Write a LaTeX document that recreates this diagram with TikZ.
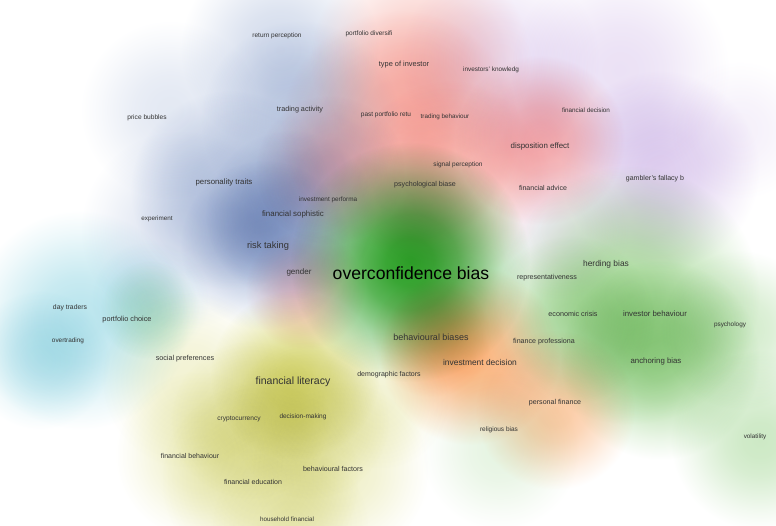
\documentclass[tikz,border=0pt]{standalone}
\usepackage{fontspec}
\setmainfont{Liberation Sans}

\definecolor{cgreen}{RGB}{45,160,40}
\definecolor{clgreen}{RGB}{130,200,110}
\definecolor{csalmon}{RGB}{245,160,150}
\definecolor{cred}{RGB}{235,120,125}
\definecolor{cmauve}{RGB}{200,135,155}
\definecolor{cblue}{RGB}{100,130,188}
\definecolor{cpurple}{RGB}{205,180,230}
\definecolor{ccyan}{RGB}{150,215,228}
\definecolor{cyellow}{RGB}{205,205,80}
\definecolor{corange}{RGB}{248,160,90}

% ぼかし (中心ほど濃い, 外側は白)
\colorlet{blobc}{white}
\pgfdeclareradialshading[blobc]{gblob}{\pgfpoint{0bp}{0bp}}{%
  color(0bp)=(blobc); color(5bp)=(blobc!94!white);
  color(10bp)=(blobc!78!white); color(15bp)=(blobc!52!white);
  color(20bp)=(blobc!24!white); color(25bp)=(white); color(50bp)=(white)}

\begin{document}
\begin{tikzpicture}[x=1pt, y=-1pt]
    % ==========================
    % 設定
    % ==========================
    \tikzset{
        kw/.style={font=\fontsize{#1}{#1}\selectfont, text=black!80, inner sep=0pt}, % キーワード
        blob/.style={shading=gblob, blend mode=multiply} % 密度の円
    }
    \def\blobs#1#2{% 色, x/y/半径/濃さ のリスト
        \foreach \x/\y/\r/\o in {#2} {
            \colorlet{blobc}{#1!\o!white}
            \shade[blob] (\x,\y) circle (\r pt);
        }}

    \fill[white] (0,0) rectangle (776,526);
    \useasboundingbox (0,0) rectangle (776,526);
    \clip (0,0) rectangle (776,526);

    % ==========================
    % 1. 密度
    % ==========================
    \blobs{ccyan}{80/320/110/65, 40/360/70/45, 150/300/60/30}
    \blobs{cyellow}{190/380/90/25, 200/455/85/30, 260/480/100/35, 340/470/90/30,
                    290/526/80/25, 250/420/80/35, 310/420/80/35, 380/400/70/25}
    \blobs{cblue}{170/110/90/18, 180/230/100/22, 280/50/100/28, 300/120/100/32,
                  230/190/100/40, 290/215/85/40, 265/245/85/48}
    \blobs{cpurple}{660/170/100/65, 500/60/100/40, 620/70/110/40, 740/130/70/20, 560/230/70/25}
    \blobs{csalmon}{420/60/110/55, 400/130/120/60, 450/180/100/50}
    \blobs{cred}{540/140/85/65, 305/290/60/40}
    \blobs{cmauve}{330/170/75/50}
    \blobs{clgreen}{630/295/130/65, 660/360/100/65, 570/320/85/40, 740/330/80/35,
                    760/440/90/40, 500/450/80/20, 150/310/50/25}
    \blobs{corange}{470/355/90/80, 431/337/60/40, 555/410/80/55}
    \blobs{cyellow}{295/375/85/72}
    \blobs{cgreen}{410/262/120/100}

    % ==========================
    % 2. キーワード
    % ==========================
    % 上
    \node[kw=6.5] (retperc)  at (277,36)  {return perception};
    \node[kw=6.5] (portdiv)  at (369,34)  {portfolio diversifi};
    \node[kw=7.4] (typeinv)  at (404,65)  {type of investor};
    \node[kw=6.4] (invknow)  at (491,70)  {investors' knowledg};
    \node[kw=7.2] (tradact)  at (300,110) {trading activity};
    \node[kw=6.6] (pricebub) at (147,118) {price bubbles};
    \node[kw=6.5] (pastret)  at (386,115) {past portfolio retu};
    \node[kw=6.3] (tradbeh)  at (445,117) {trading behaviour};
    \node[kw=6.3] (findec)   at (586,110) {financial decision};
    \node[kw=7.9] (dispeff)  at (540,146) {disposition effect};
    \node[kw=6.5] (sigperc)  at (458,165) {signal perception};
    \node[kw=7.0] (gambler)  at (655,179) {gambler's fallacy b};
    \node[kw=7.0] (finadv)   at (543,188) {financial advice};
    \node[kw=7.1] (psybias)  at (425,185) {psychological biase};
    % 左
    \node[kw=7.8] (perstr)   at (224,182) {personality traits};
    \node[kw=6.4] (invperf)  at (328,200) {investment performa};
    \node[kw=7.9] (finsoph)  at (293,214) {financial sophistic};
    \node[kw=6.3] (experim)  at (157,219) {experiment};
    \node[kw=9.3] (risktak)  at (268,246) {risk taking};
    \node[kw=8.0] (gender)   at (299,272) {gender};
    % 中央
    \node[kw=17.6, text=black] (overconf) at (411,273) {overconfidence bias};
    \node[kw=7.1] (repres)   at (547,278) {representativeness};
    \node[kw=8.4] (herding)  at (606,264) {herding bias};
    \node[kw=7.2] (econcri)  at (573,314) {economic crisis};
    \node[kw=7.8] (invbeh)   at (655,314) {investor behaviour};
    \node[kw=6.4] (psychol)  at (730,325) {psychology};
    \node[kw=7.1] (finprof)  at (544,342) {finance professiona};
    \node[kw=7.8] (anchor)   at (656,361) {anchoring bias};
    \node[kw=7.1] (persfin)  at (555,403) {personal finance};
    \node[kw=6.5] (religio)  at (499,430) {religious bias};
    \node[kw=6.3] (volatil)  at (755,437) {volatility};
    \node[kw=9.0] (behbias)  at (431,337) {behavioural biases};
    \node[kw=8.4] (invdec)   at (480,362) {investment decision};
    \node[kw=7.0] (demogr)   at (389,375) {demographic factors};
    % 下
    \node[kw=6.8] (daytrad)  at (70,308)  {day traders};
    \node[kw=7.3] (portcho)  at (127,320) {portfolio choice};
    \node[kw=6.4] (overtrad) at (68,341)  {overtrading};
    \node[kw=7.2] (socpref)  at (185,359) {social preferences};
    \node[kw=10.5] (finlit)  at (293,382) {financial literacy};
    \node[kw=6.6] (crypto)   at (239,419) {cryptocurrency};
    \node[kw=6.5] (decmak)   at (303,417) {decision-making};
    \node[kw=7.0] (finbeh)   at (190,456) {financial behaviour};
    \node[kw=7.1] (behfac)   at (333,469) {behavioural factors};
    \node[kw=7.0] (finedu)   at (253,482) {financial education};
    \node[kw=6.3] (household) at (287,519) {household financial};

\end{tikzpicture}
\end{document}
